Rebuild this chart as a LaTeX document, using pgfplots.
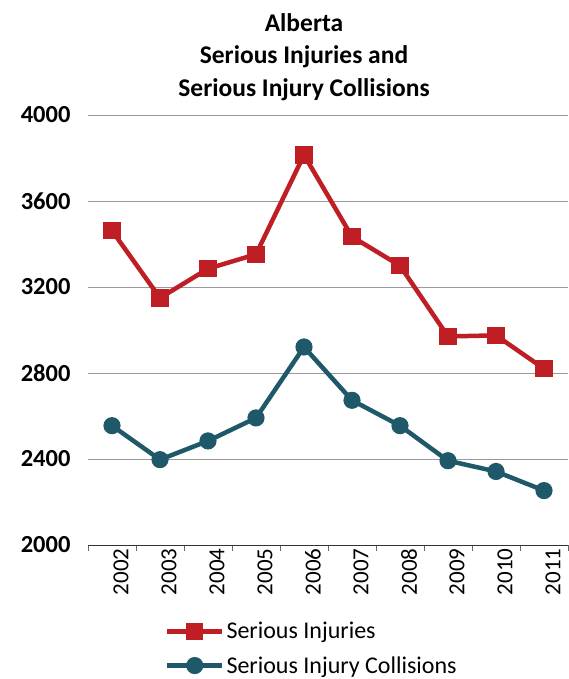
\documentclass[border=0pt]{standalone}
\usepackage{pgfplots}
\pgfplotsset{compat=1.18}
\usepackage{fontspec}
\setmainfont{Carlito}
\definecolor{sired}{RGB}{190,30,36}
\definecolor{siteal}{RGB}{31,88,104}
\begin{document}
\begin{tikzpicture}
\useasboundingbox (-88pt,-134pt) rectangle (480pt,545pt);
\begin{axis}[
  at={(0pt,0pt)}, anchor=south west,
  scale only axis, width=480pt, height=430pt,
  /pgf/number format/assume math mode=true,
  xmin=-0.5, xmax=9.5, ymin=2000, ymax=4000,
  xtick={0,...,9},
  xticklabels={2002,2003,2004,2005,2006,2007,2008,2009,2010,2011},
  minor xtick={-0.5,0.5,...,9.5},
  ytick={2000,2400,...,4000},
  /pgf/number format/1000 sep={},
  major tick length=0pt,
  minor tick length=6pt,
  minor tick style={black!60, line width=0.8pt},
  tick align=outside,
  axis lines*=left,
  axis line style={-},
  y axis line style={draw=none},
  x axis line style={black!80, line width=0.9pt},
  ymajorgrids,
  grid style={black!40, line width=0.9pt},
  xticklabel style={rotate=90, anchor=east, font=\fontsize{23}{23}\selectfont, yshift=-9pt},
  yticklabel style={font=\fontsize{24.5}{24}\selectfont\bfseries, xshift=-14pt},
  legend style={at={(0.16,-0.175)}, anchor=north west, draw=none, fill=none,
    font=\fontsize{24}{24}\selectfont, row sep=12pt, inner sep=0pt},
  legend cell align=left,
  legend image code/.code={\draw[mark repeat=2,mark phase=2,#1] plot coordinates {(0pt,0pt) (27.5pt,0pt) (55pt,0pt)};},
]
\addplot[sired, line width=4.5pt, mark=square*, mark size=6.3pt, mark options={solid}] coordinates {
 (0,3462) (1,3149) (2,3285) (3,3352) (4,3814) (5,3434) (6,3299) (7,2970) (8,2975) (9,2820)};
\addlegendentry{Serious Injuries}
\addplot[siteal, line width=4.5pt, mark=*, mark size=6.3pt, mark options={solid}] coordinates {
 (0,2555) (1,2397) (2,2484) (3,2591) (4,2921) (5,2673) (6,2555) (7,2392) (8,2342) (9,2253)};
\addlegendentry{Serious Injury Collisions}
\end{axis}
\node[align=center, font=\fontsize{25.5}{32.5}\selectfont\bfseries] at (216pt,488pt) {Alberta\\Serious Injuries and\\Serious Injury Collisions};
\end{tikzpicture}
\end{document}
